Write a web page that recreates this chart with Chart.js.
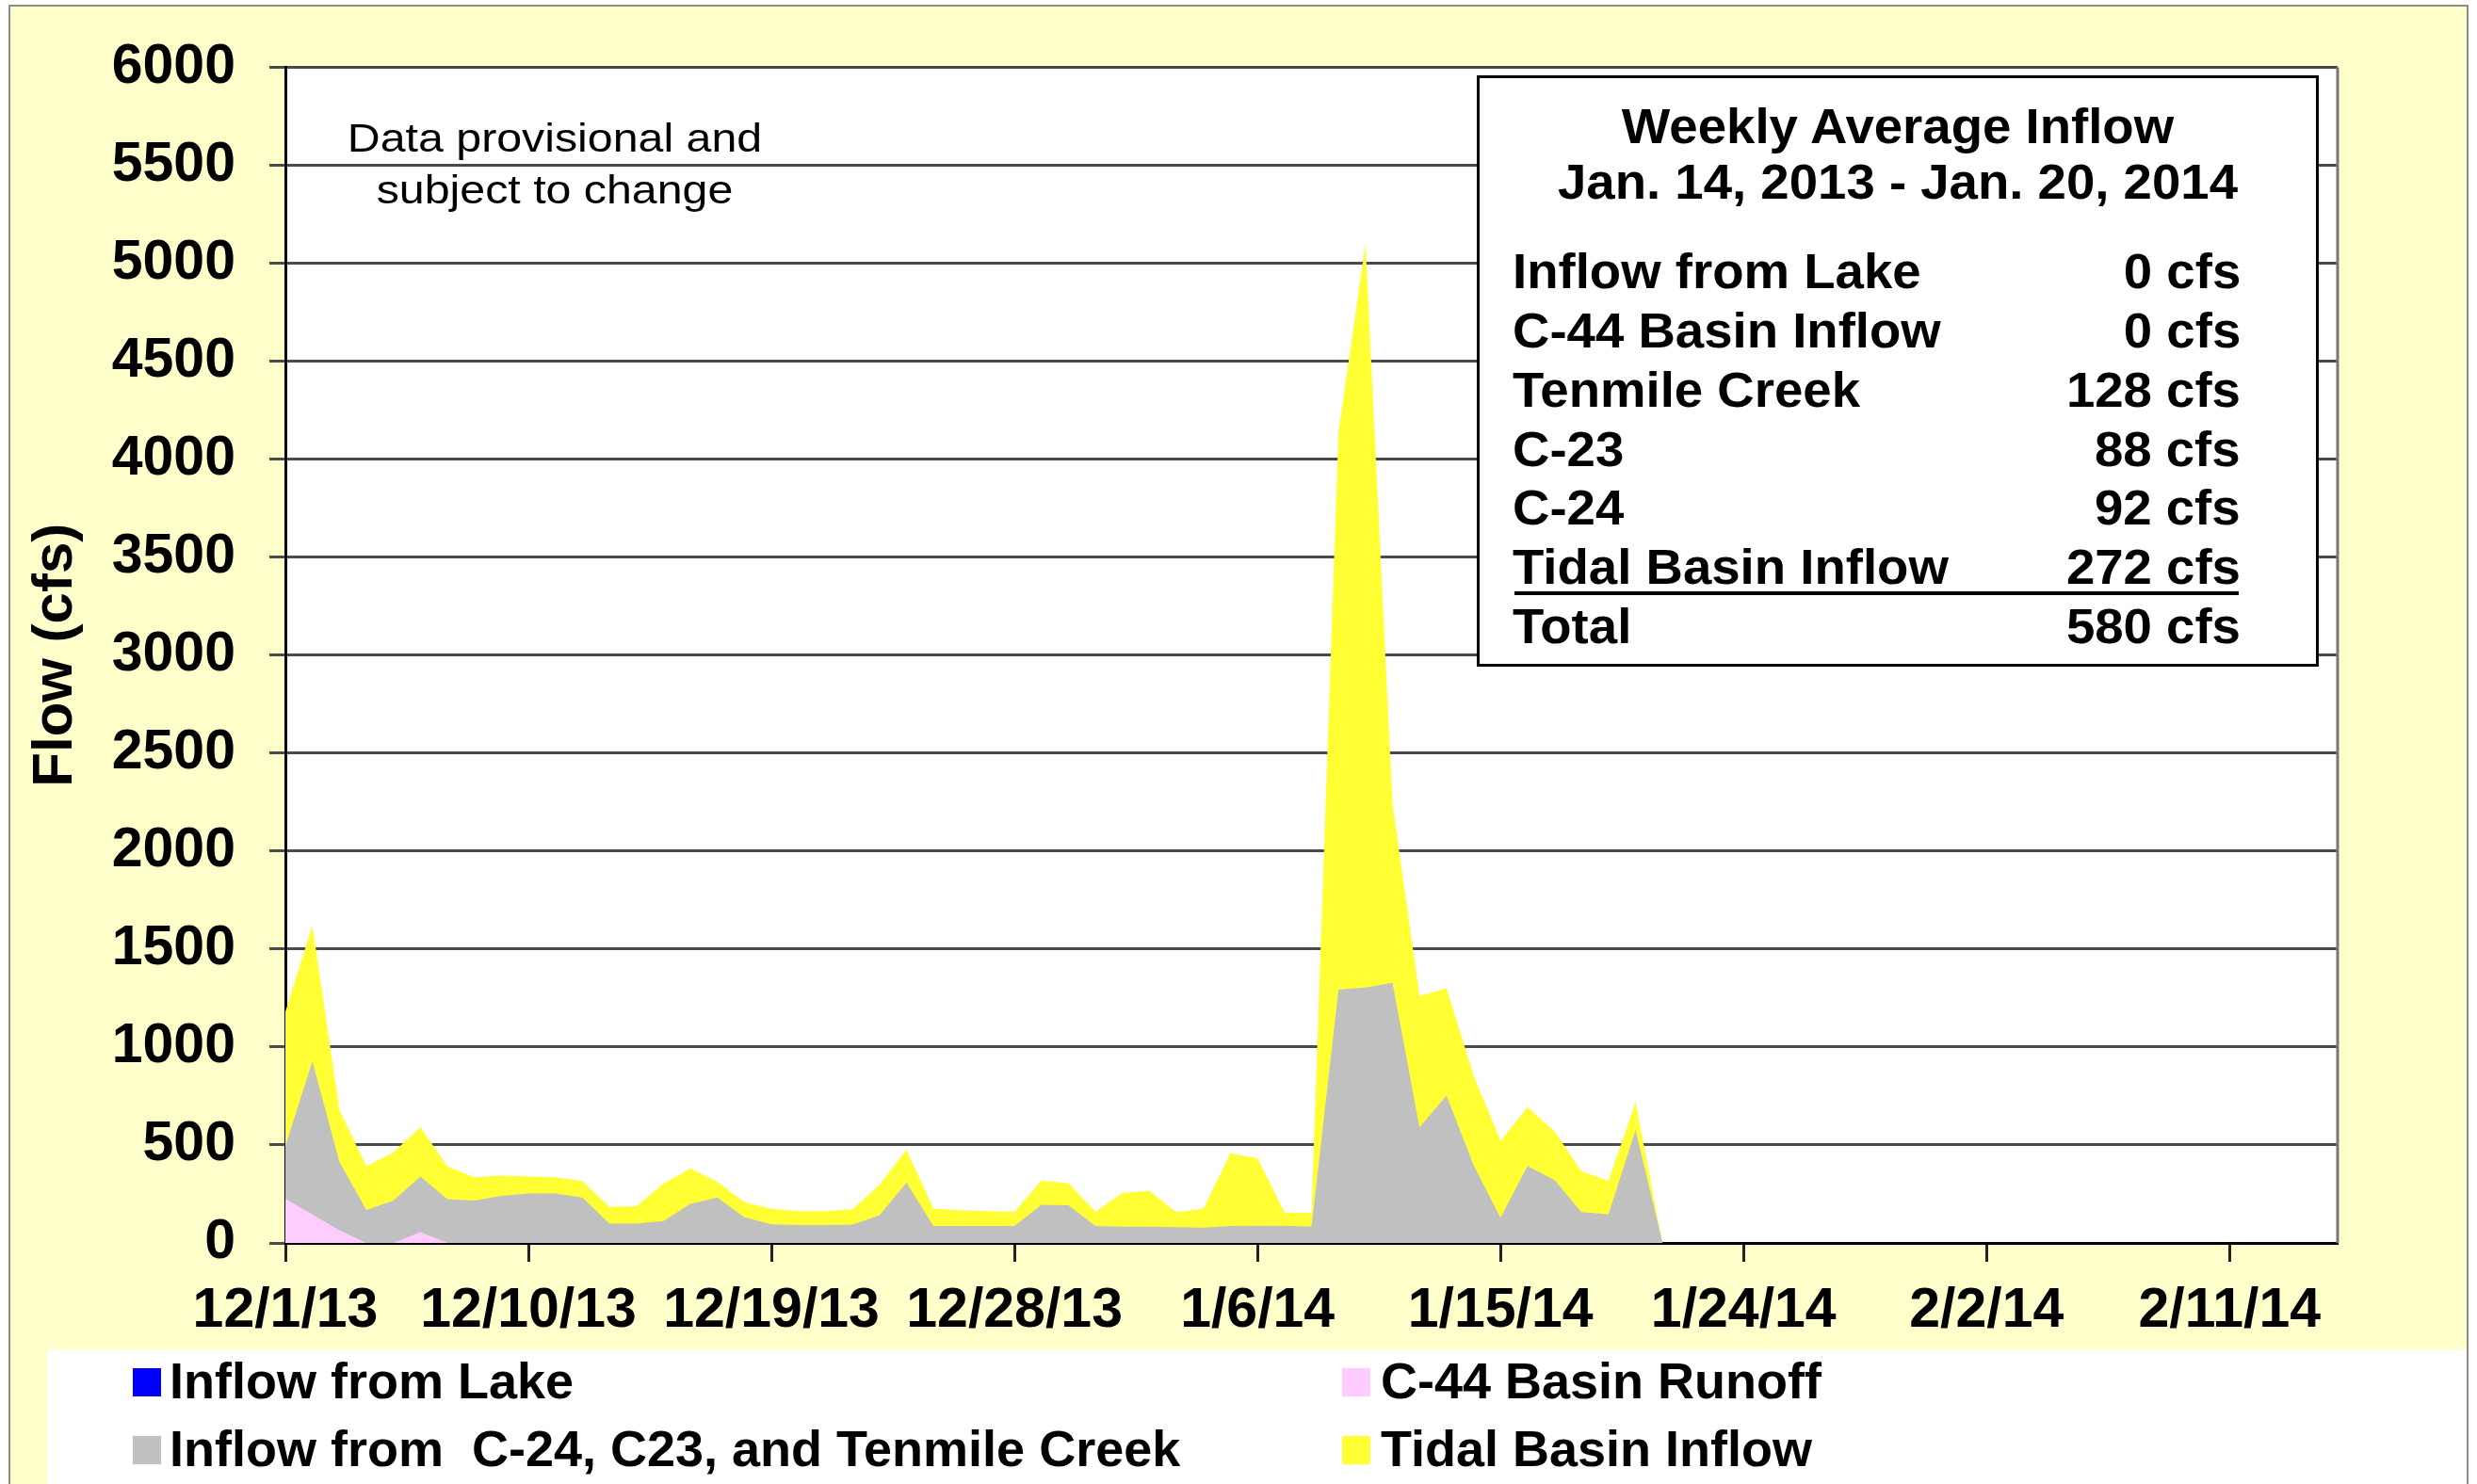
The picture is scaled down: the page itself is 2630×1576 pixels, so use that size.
<!DOCTYPE html>
<html>
<head>
<meta charset="utf-8">
<script src="https://cdn.jsdelivr.net/npm/chart.js@4.4.1/dist/chart.umd.min.js"></script>
<style>
  body { margin: 0; background: #fff; }
  #wrap { position: relative; width: 2630px; height: 1576px; overflow: hidden; font-family: "Liberation Sans", Arial, sans-serif; color: #000; }
  #frame { position: absolute; left: 9px; top: 5px; width: 2612px; height: 1600px; box-sizing: border-box; border: 2px solid #8c8c8c; background: #ffffcc; }
  #chart { position: absolute; left: 0; top: 0; }
  .note { position: absolute; left: 289px; width: 600px; text-align: center; font-size: 42px; line-height: 42px; white-space: nowrap; transform: scaleX(1.15); }
  #inset { position: absolute; left: 1568px; top: 80px; width: 894px; height: 628px; box-sizing: border-box; border: 3px solid #000; background: #fff; font-weight: bold; font-size: 51px; line-height: 51px; }
  #inset div { position: absolute; white-space: nowrap; }
  #inset .head { left: 0; width: 100%; text-align: center; transform: scaleX(1.07); }
  #inset .name { left: 35px; transform: scaleX(1.07); transform-origin: left center; }
  #inset .val { right: 80px; transform: scaleX(1.07); transform-origin: right center; }
  #inset .rule { left: 37px; top: 545px; width: 769px; height: 4px; background: #000; }
  #legend { position: absolute; left: 50px; top: 1433px; width: 2569px; height: 150px; background: #fff; }
  .lg-box { position: absolute; width: 30px; height: 30px; }
  .lg-text { position: absolute; font-weight: bold; font-size: 54px; line-height: 54px; white-space: pre; }
</style>
</head>
<body>
<div id="wrap">
  <div id="frame"></div>
  <canvas id="chart" width="2630" height="1576"></canvas>
  <div class="note" style="top:126px">Data provisional and</div>
  <div class="note" style="top:181px">subject to change</div>
  <div id="inset">
    <div class="head" style="top:26px">Weekly Average Inflow</div>
    <div class="head" style="top:85px">Jan. 14, 2013 - Jan. 20, 2014</div>
    <div class="rule"></div>
  </div>
  <div id="legend"></div>
</div>
<script>
// daily values starting 12/1/13 (day 0), cfs
const tickLabels = ['12/1/13', '12/10/13', '12/19/13', '12/28/13', '1/6/14', '1/15/14', '1/24/14', '2/2/14', '2/11/14'];

const seriesNames = ['Inflow from Lake', 'C-44 Basin Runoff', 'Inflow from  C-24, C23, and Tenmile Creek', 'Tidal Basin Inflow'];
const seriesColors = ['#0000ff', '#ffccff', '#c0c0c0', '#ffff33'];

const lakeInflow = [0, 0, 0, 0, 0, 0, 0, 0, 0, 0, 0, 0, 0, 0, 0, 0, 0, 0, 0, 0, 0, 0, 0, 0, 0, 0,
    0, 0, 0, 0, 0, 0, 0, 0, 0, 0, 0, 0, 0, 0, 0, 0, 0, 0, 0, 0, 0, 0, 0, 0, 0, 0];
const c44Runoff = [225, 145, 65, 0, 0, 55, 0, 0, 0, 0, 0, 0, 0, 0, 0, 0, 0, 0, 0, 0, 0, 0, 0, 0, 0, 0,
    0, 0, 0, 0, 0, 0, 0, 0, 0, 0, 0, 0, 0, 0, 0, 0, 0, 0, 0, 0, 0, 0, 0, 0, 0, 0];
const creekInflow = [270, 781, 350, 168, 216, 284, 224, 216, 240, 252, 252, 232, 99, 99, 112, 200, 232, 131, 95, 91, 91, 94, 140, 308, 86, 86,
    86, 86, 195, 192, 86, 83, 83, 81, 78, 87, 88, 88, 83, 1293, 1303, 1327, 590, 752, 398, 128, 393, 321, 157, 147, 577, 0];
const tidalInflow = [685, 694, 265, 222, 247, 252, 167, 119, 103, 87, 83, 84, 85, 89, 191, 180, 79, 77, 79, 71, 71, 76, 157, 168, 89, 81,
    76, 73, 123, 113, 73, 173, 182, 75, 97, 371, 345, 67, 69, 2845, 3797, 914, 670, 548, 457, 393, 299, 248, 208, 170, 141, 0];

const summaryNames = ['Inflow from Lake', 'C-44 Basin Inflow', 'Tenmile Creek', 'C-23', 'C-24', 'Tidal Basin Inflow', 'Total'];
const summaryValues = [0, 0, 128, 88, 92, 272, 580];

// summary box rows
const inset = document.getElementById('inset');
summaryNames.forEach(function(name, i) {
    const top = 180.3 + i * 62.75;
    const n = document.createElement('div');
    n.className = 'name';
    n.style.top = top + 'px';
    n.textContent = name;
    inset.appendChild(n);
    const v = document.createElement('div');
    v.className = 'val';
    v.style.top = top + 'px';
    v.textContent = summaryValues[i] + ' cfs';
    inset.appendChild(v);
});

// legend, two columns
const legend = document.getElementById('legend');
const boxLeft = [91, 1375], textLeft = [130, 1416];
seriesNames.forEach(function(name, i) {
    const col = i % 2, row = Math.floor(i / 2);
    const b = document.createElement('div');
    b.className = 'lg-box';
    b.style.left = boxLeft[col] + 'px';
    b.style.top = (20 + row * 72) + 'px';
    b.style.background = seriesColors[i];
    legend.appendChild(b);
    const t = document.createElement('div');
    t.className = 'lg-text';
    t.style.left = textLeft[col] + 'px';
    t.style.top = (6 + row * 72) + 'px';
    t.textContent = name;
    legend.appendChild(t);
});

const plotFrame = {
    id: 'plotFrame',
    beforeDraw(chart) {
        const a = chart.chartArea, ctx = chart.ctx;
        ctx.save();
        ctx.fillStyle = '#ffffff';
        ctx.fillRect(a.left, a.top, a.right - a.left, a.bottom - a.top);
        ctx.restore();
    },
    afterDraw(chart) {
        const a = chart.chartArea, ctx = chart.ctx;
        ctx.save();
        ctx.strokeStyle = '#777777';
        ctx.lineWidth = 3;
        ctx.beginPath();
        ctx.moveTo(a.right, a.top);
        ctx.lineTo(a.right, a.bottom);
        ctx.stroke();
        ctx.restore();
    }
};

const series = [lakeInflow, c44Runoff, creekInflow, tidalInflow];
const datasets = series.map(function(values, i) {
    return {
        label: seriesNames[i],
        data: values.map(function(v, d) { return {x: d, y: v}; }),
        backgroundColor: seriesColors[i],
        borderWidth: 0,
        pointRadius: 0,
        tension: 0,
        fill: 'origin'
    };
});

const font = {family: '"Liberation Sans", Arial, sans-serif', size: 59, weight: 'bold'};

new Chart(document.getElementById('chart'), {
    type: 'line',
    data: {datasets: datasets},
    options: {
        responsive: false,
        animation: false,
        devicePixelRatio: 1,
        layout: {padding: {left: 0, top: 67, right: 148, bottom: 0}},
        plugins: {legend: {display: false}, tooltip: {enabled: false}},
        scales: {
            x: {
                type: 'linear',
                min: 0,
                max: 76,
                afterFit: function(s) { s.height = 256; },
                grid: {drawOnChartArea: false, drawTicks: true, tickLength: 20, tickColor: '#222', tickWidth: 3},
                border: {color: '#000', width: 3},
                ticks: {
                    stepSize: 9,
                    includeBounds: false,
                    maxRotation: 0,
                    autoSkip: false,
                    padding: 17,
                    color: '#000',
                    font: font,
                    callback: function(v) { return tickLabels[Math.round(v / 9)]; }
                }
            },
            y: {
                stacked: true,
                min: 0,
                max: 6000,
                afterFit: function(s) { s.width = 303; },
                grid: {color: '#4a4a4a', lineWidth: 3, tickLength: 17, tickColor: '#4a4a4a'},
                border: {color: '#000', width: 3},
                ticks: {
                    stepSize: 500,
                    padding: 36,
                    color: '#000',
                    font: font,
                    callback: function(v) { return String(v); }
                },
                title: {
                    display: true,
                    text: 'Flow (cfs)',
                    color: '#000',
                    font: {family: font.family, size: 60, weight: 'bold'},
                    padding: {top: 23, bottom: 0}
                }
            }
        }
    },
    plugins: [plotFrame]
});
</script>
</body>
</html>
